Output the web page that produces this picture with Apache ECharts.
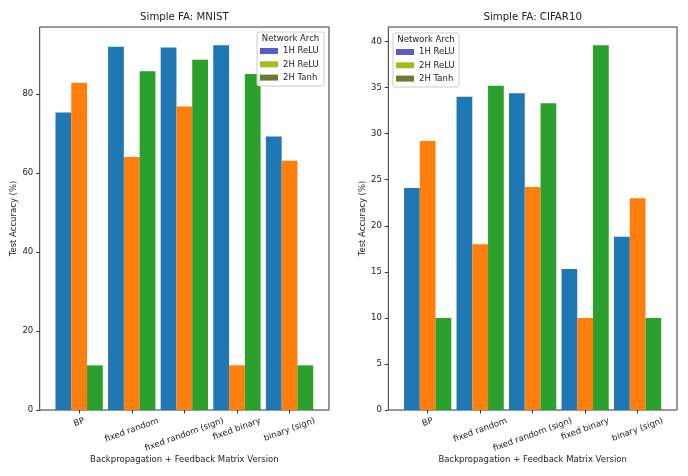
<!DOCTYPE html>
<html>
<head>
<meta charset="utf-8">
<script src="https://cdn.jsdelivr.net/npm/echarts@6/dist/echarts.min.js"></script>
<style>html,body{margin:0;padding:0;background:#fff}#c{width:688px;height:476px}</style>
</head>
<body>
<div id="c"></div>
<script>
const categories = ['BP', 'fixed random', 'fixed random (sign)', 'fixed binary', 'binary (sign)'];
const seriesNames = ['1H ReLU', '2H ReLU', '2H Tanh'];
const mnist1HReLU = [75.3, 91.9, 91.7, 92.3, 69.2];
const mnist2HReLU = [82.8, 64.0, 76.8, 11.3, 63.1];
const mnist2HTanh = [11.3, 85.7, 88.6, 85.0, 11.3];
const cifar1HReLU = [24.1, 34.0, 34.4, 15.3, 18.8];
const cifar2HReLU = [29.2, 18.0, 24.2, 10.0, 23.0];
const cifar2HTanh = [10.0, 35.2, 33.3, 39.6, 10.0];
const mnistTicks = [0, 20, 40, 60, 80];
const cifarTicks = [0, 5, 10, 15, 20, 25, 30, 35, 40];
const titles = ['Simple FA: MNIST', 'Simple FA: CIFAR10'];
const xLabel = 'Backpropagation + Feedback Matrix Version';
const yLabel = 'Test Accuracy (%)';
const legendTitle = 'Network Arch';

const barColors = ['#1f77b4', '#ff7f0e', '#2ca02c'];
const legendColors = ['#5a5bc4', '#a2bd1c', '#6b7b33'];
const FONT = '"DejaVu Sans", sans-serif';
const FS = 8.5;
const TXT = '#222';

const chart = echarts.init(document.getElementById('c'), null, {renderer: 'canvas'});

const ctx = document.createElement('canvas').getContext('2d');
ctx.font = FS + 'px "DejaVu Sans"';
const th = 20 * Math.PI / 180;
// rich styles that shift each rotated label so that its rotated box is centred under the tick
const labelRich = {t: {fontFamily: FONT, fontSize: FS, color: TXT, lineHeight: 10}};
categories.forEach((c, i) => {
  const L = ctx.measureText(c).width;
  const P = L * Math.sin(th) * Math.cos(th);
  const R = P * Math.tan(th);
  labelRich['s' + i] = {height: P, lineHeight: P, fontSize: 1, width: 1};
  labelRich['r' + i] = {width: R, fontSize: 1, height: 10};
});
function labelFmt(value, index) {
  const i = categories.indexOf(value);
  return '{s' + i + '| }\n{t|' + value + '}{r' + i + '| }';
}

const frames = [
  {left: 39.7, width: 289.3, top: 27, bottom: 66},
  {left: 388.3, width: 288.7, top: 27, bottom: 66}
];
const nCat = categories.length;
const span = (nCat - 1) + 0.9 + 2 * 0.05 * ((nCat - 1) + 0.9);
const grids = [], xAxes = [], yAxes = [], series = [], titleArr = [], legends = [], graphics = [];
const datasets = [[mnist1HReLU, mnist2HReLU, mnist2HTanh], [cifar1HReLU, cifar2HReLU, cifar2HTanh]];
const tickSets = [mnistTicks, cifarTicks];
const legendBoxes = [
  {x: 257, y: 32, w: 67, h: 54},
  {x: 393, y: 33, w: 66, h: 54}
];

frames.forEach((f, k) => {
  const unit = f.width / span;
  const inset = unit * 0.05 * ((nCat - 1) + 0.9);
  const all = [].concat(...datasets[k]);
  const ymax = Math.max(...all) * 1.05;
  grids.push({left: f.left, width: f.width, top: f.top, bottom: f.bottom, show: true, borderColor: '#333', borderWidth: 1, backgroundColor: 'transparent'});
  grids.push({left: f.left + inset, width: f.width - 2 * inset, top: f.top, bottom: f.bottom, show: false});
  const gi = grids.length - 2;
  xAxes.push({gridIndex: gi, type: 'value', min: 0, max: 1, show: false});
  xAxes.push({
    gridIndex: gi + 1, type: 'category', data: categories,
    axisLine: {show: false},
    axisTick: {show: true, alignWithLabel: true, length: 3.5, lineStyle: {color: '#333'}},
    axisLabel: {interval: 0, rotate: 20, align: 'center', verticalAlign: 'middle', margin: 10.5,
      fontFamily: FONT, fontSize: FS, color: TXT, formatter: labelFmt, rich: labelRich, hideOverlap: false},
    name: xLabel, nameLocation: 'middle', nameGap: 45, nameMoveOverlap: false,
    nameTextStyle: {fontFamily: FONT, fontSize: FS, color: TXT, verticalAlign: 'top'}
  });
  yAxes.push({
    gridIndex: gi, type: 'value', min: 0, max: ymax,
    axisLine: {show: false},
    axisTick: {show: true, length: 3.5, lineStyle: {color: '#333'}, customValues: tickSets[k]},
    axisLabel: {margin: 6.5, fontFamily: FONT, fontSize: FS, color: TXT, customValues: tickSets[k]},
    splitLine: {show: false},
    name: yLabel, nameLocation: 'middle', nameGap: 21, nameMoveOverlap: false,
    nameTextStyle: {fontFamily: FONT, fontSize: FS, color: TXT}
  });
  yAxes.push({gridIndex: gi + 1, type: 'value', min: 0, max: ymax, show: false});
  datasets[k].forEach((vals, s) => {
    series.push({
      type: 'bar', name: seriesNames[s], xAxisIndex: gi + 1, yAxisIndex: gi + 1,
      data: vals, barWidth: '30%', barGap: '0%',
      itemStyle: {color: barColors[s]}, animation: false
    });
  });
  titleArr.push({
    text: titles[k], left: f.left + f.width / 2, top: 11, textAlign: 'center', padding: 0,
    textStyle: {fontFamily: FONT, fontSize: 10.2, fontWeight: 'normal', color: TXT, lineHeight: 12}
  });
  const b = legendBoxes[k];
  graphics.push({type: 'rect', shape: {x: b.x, y: b.y, width: b.w, height: b.h, r: 2}, style: {fill: 'rgba(255,255,255,0.85)', stroke: '#cccccc', lineWidth: 1}, z: 10});
  graphics.push({type: 'text', x: b.x + b.w / 2, y: b.y + 6.5, style: {text: legendTitle, font: FS + 'px ' + FONT, fill: TXT, textAlign: 'center', textVerticalAlign: 'middle'}, z: 11});
  legends.push({
    orient: 'vertical', left: b.x + 3, top: b.y + 14, padding: 0,
    itemWidth: 18, itemHeight: 6, itemGap: 3.3, icon: 'rect', z: 12,
    textStyle: {fontFamily: FONT, fontSize: FS, color: TXT, lineHeight: 10, padding: [0, 0, 0, 0]},
    selectedMode: false,
    data: seriesNames.map((n, s) => ({name: n, itemStyle: {color: legendColors[s]}}))
  });
});

chart.setOption({
  animation: false,
  title: titleArr,
  grid: grids,
  xAxis: xAxes,
  yAxis: yAxes,
  legend: legends,
  graphic: graphics,
  series: series
});
</script>
</body>
</html>
